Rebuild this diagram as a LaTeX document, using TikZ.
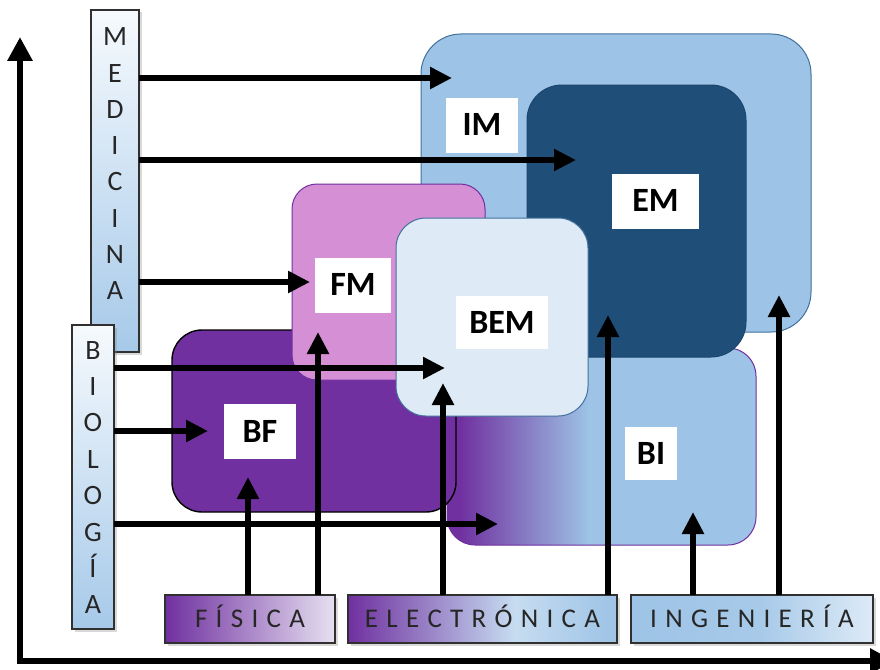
\documentclass[tikz,border=0pt]{standalone}
\usepackage{fontspec}
\setmainfont{Carlito}
\usetikzlibrary{arrows.meta,shadows}
\definecolor{imblue}{HTML}{9DC3E6}
\definecolor{imborder}{HTML}{41719C}
\definecolor{emblue}{HTML}{1F4E79}
\definecolor{bemblue}{HTML}{DEEBF7}
\definecolor{fmpink}{HTML}{D590D5}
\definecolor{purp}{HTML}{7030A0}
\definecolor{boxgray}{HTML}{303030}
\definecolor{sidetop}{HTML}{F6FAFD}
\definecolor{sidebot}{HTML}{A6C9E9}
\definecolor{fislight}{HTML}{E6E0F1}
\definecolor{elelight}{HTML}{C6DCF0}
\definecolor{ingmid}{HTML}{A8CAE9}
\definecolor{inglight}{HTML}{DDEAF6}
\pgfdeclarehorizontalshading{bishade}{100bp}{color(0bp)=(purp); color(27bp)=(purp); color(48bp)=(imblue); color(100bp)=(imblue)}
\pgfdeclarehorizontalshading{eleshade}{100bp}{color(0bp)=(purp); color(25bp)=(purp); color(56bp)=(elelight); color(75bp)=(imblue); color(100bp)=(imblue)}
\pgfdeclarehorizontalshading{ingshade}{100bp}{color(0bp)=(imblue); color(25bp)=(imblue); color(52bp)=(ingmid); color(75bp)=(inglight); color(100bp)=(inglight)}
\newcommand\lsp{\hspace{8.3pt}}
\begin{document}
\begin{tikzpicture}[x=1pt,y=-1pt,
  region/.style={line width=1pt, inner sep=0pt, outer sep=0pt},
  lbl/.style={fill=white, inner sep=0pt, outer sep=0pt, minimum height=55pt,
    font=\fontsize{34}{36}\selectfont\bfseries, text height=21.9pt, text depth=0pt},
  arr/.style={line width=5.5pt, -{Triangle[length=22pt,width=21pt]}},
  axisline/.style={line width=6.5pt, {Triangle[length=24pt,width=24pt]}-{Triangle[length=24pt,width=24pt]}},
  sidebox/.style={draw=boxgray, line width=1.3pt, top color=sidetop, bottom color=sidebot,
    inner sep=0pt, outer sep=0pt, drop shadow={opacity=0.3, shadow xshift=2.5pt, shadow yshift=-2.5pt}},
  botbox/.style={draw=boxgray, line width=1.3pt, inner sep=0pt, outer sep=0pt, minimum height=48pt,
    font=\fontsize{27}{30}\selectfont, text=black!85, text height=17.4pt, text depth=0pt,
    drop shadow={opacity=0.3, shadow xshift=2.5pt, shadow yshift=-2.5pt}},
  sidetxt/.style={anchor=base, inner sep=0pt, font=\fontsize{28}{30}\selectfont, text=black!85}
]
\useasboundingbox (0,0) rectangle (880,669);
% axes
\coordinate (ytip) at (20,37);
\coordinate (xtip) at (894,661);
\draw[axisline] (ytip) |- (xtip);
% side boxes
\node[sidebox, minimum width=48pt, minimum height=342pt] (MED) at (115,181) {};
\node[sidebox, minimum width=42pt, minimum height=304pt] (BIO) at (93,477) {};
\foreach \c [count=\i] in {M,E,D,I,C,I,N,A}
  \node[sidetxt] (med\i) at (115,{46+36.2*(\i-1)}) {\c};
\foreach \c [count=\i] in {B,I,O,L,O,G,Í,A}
  \node[sidetxt] (bio\i) at (93,{359+36.4*(\i-1)}) {\c};
% bottom boxes
\node[botbox, left color=purp, right color=fislight, minimum width=170pt] (FIS) at (250,619) {F\lsp Í\lsp S\lsp I\lsp C\lsp A};
\node[botbox, shade, shading=eleshade, minimum width=269pt] (ELE) at (482.5,619) {E\lsp L\lsp E\lsp C\lsp T\lsp R\lsp Ó\lsp N\lsp I\lsp C\lsp A};
\node[botbox, shade, shading=ingshade, minimum width=242pt] (ING) at (752,619) {I\lsp N\lsp G\lsp E\lsp N\lsp I\lsp E\lsp R\lsp Í\lsp A};
% regions
\node[region, draw=purp, shade, shading=bishade, rounded corners=28pt, minimum width=309pt, minimum height=197pt] (BI) at (601.5,446.5) {};
\node[region, draw=imborder, fill=imblue, rounded corners=40pt, minimum width=390pt, minimum height=298pt] (IM) at (616,183) {};
\node[region, draw=emblue!90!black, fill=emblue, rounded corners=35pt, minimum width=219pt, minimum height=272pt] (EM) at (636.5,221) {};
\node[region, draw=black, line width=1.4pt, fill=purp, rounded corners=30pt, minimum width=284pt, minimum height=182pt] (BF) at (314,421) {};
\node[region, draw=purp, fill=fmpink, rounded corners=25pt, minimum width=193pt, minimum height=196pt] (FM) at (388.5,282) {};
\node[region, draw=imborder, fill=bemblue, rounded corners=30pt, minimum width=192pt, minimum height=198pt] (BEM) at (492,317) {};
% labels
\node[lbl, minimum width=72pt] (IMl) at (482,125) {IM};
\node[lbl, minimum width=87pt] (EMl) at (655.5,201) {EM};
\node[lbl, minimum width=76pt] (FMl) at (353,285) {FM};
\node[lbl, minimum width=92pt, minimum height=53pt] (BEMl) at (502,322.5) {BEM};
\node[lbl, minimum width=72pt] (BFl) at (260,431.5) {BF};
\node[lbl, minimum width=52pt, minimum height=53pt] (BIl) at (651,453.5) {BI};
% arrow tips
\coordinate (t1) at (452,78);
\coordinate (t2) at (576,160);
\coordinate (t3) at (310,282);
\coordinate (t4) at (445,368);
\coordinate (t5) at (208,431);
\coordinate (t6) at (498,524);
\coordinate (t7) at (248,477);
\coordinate (t8) at (318,332);
\coordinate (t9) at (443,383);
\coordinate (t10) at (608,315);
\coordinate (t11) at (693,512);
\coordinate (t12) at (779,295);
% arrows
\draw[arr] (MED.east |- t1) -- (t1);
\draw[arr] (MED.east |- t2) -- (t2);
\draw[arr] (MED.east |- t3) -- (t3);
\draw[arr] (BIO.east |- t4) -- (t4);
\draw[arr] (BIO.east |- t5) -- (t5);
\draw[arr] (BIO.east |- t6) -- (t6);
\draw[arr] (FIS.north -| t7) -- (t7);
\draw[arr] (FIS.north -| t8) -- (t8);
\draw[arr] (ELE.north -| t9) -- (t9);
\draw[arr] (ELE.north -| t10) -- (t10);
\draw[arr] (ING.north -| t11) -- (t11);
\draw[arr] (ING.north -| t12) -- (t12);
\end{tikzpicture}
\end{document}
